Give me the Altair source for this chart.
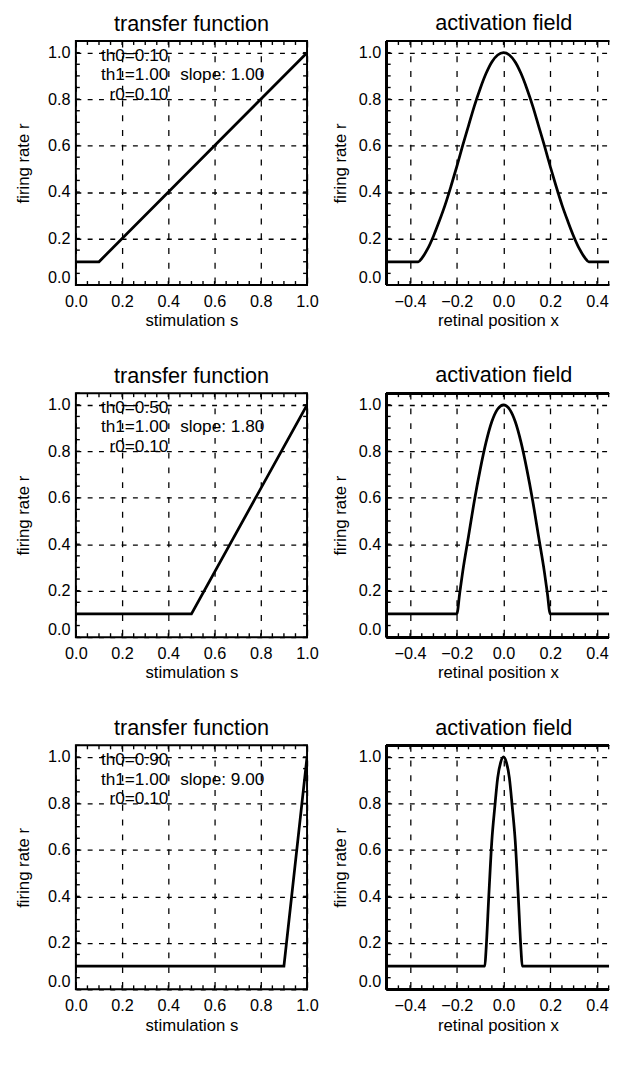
import altair as alt
import pandas as pd

FONT = "Liberation Sans"

# ---------------- data ----------------
# transfer functions (stimulation s -> firing rate r)
tf1_s = [0.0, 0.10, 1.0]
tf1_r = [0.10, 0.10, 1.00]
tf2_s = [0.0, 0.50, 1.0]
tf2_r = [0.10, 0.10, 1.00]
tf3_s = [0.0, 0.90, 1.0]
tf3_r = [0.10, 0.10, 1.00]

# activation fields (retinal position x -> firing rate r)
af1_x = [-0.5, -0.45, -0.4, -0.365, -0.35, -0.325, -0.3, -0.275, -0.25, -0.225,
         -0.2, -0.175, -0.15, -0.125, -0.1, -0.075, -0.05, -0.025, 0.0,
         0.025, 0.05, 0.075, 0.1, 0.125, 0.15, 0.175, 0.2, 0.225, 0.25,
         0.275, 0.3, 0.325, 0.35, 0.365, 0.4, 0.45, 0.5]
af1_r = [0.10, 0.10, 0.10, 0.10, 0.115, 0.155, 0.21, 0.275, 0.345, 0.425,
         0.51, 0.60, 0.685, 0.77, 0.845, 0.91, 0.96, 0.99, 1.00,
         0.99, 0.96, 0.91, 0.845, 0.77, 0.685, 0.60, 0.51, 0.425, 0.345,
         0.275, 0.21, 0.155, 0.115, 0.10, 0.10, 0.10, 0.10]

af2_x = [-0.5, -0.4, -0.3, -0.2, -0.1875, -0.175, -0.15, -0.125, -0.1, -0.075,
         -0.05, -0.025, 0.0, 0.025, 0.05, 0.075, 0.1, 0.125, 0.15, 0.175,
         0.1875, 0.2, 0.3, 0.4, 0.5]
af2_r = [0.10, 0.10, 0.10, 0.10, 0.19, 0.28, 0.433, 0.586, 0.721, 0.838,
         0.928, 0.982, 1.00, 0.982, 0.928, 0.838, 0.721, 0.586, 0.433, 0.28,
         0.19, 0.10, 0.10, 0.10, 0.10]

af3_x = [-0.5, -0.4, -0.3, -0.2, -0.1, -0.08, -0.075, -0.0625, -0.05, -0.0375,
         -0.025, -0.0125, 0.0, 0.0125, 0.025, 0.0375, 0.05, 0.0625, 0.075,
         0.08, 0.1, 0.2, 0.3, 0.4, 0.5]
af3_r = [0.10, 0.10, 0.10, 0.10, 0.10, 0.10, 0.166, 0.412, 0.64, 0.784,
         0.91, 0.976, 1.00, 0.976, 0.91, 0.784, 0.64, 0.412, 0.166,
         0.10, 0.10, 0.10, 0.10, 0.10, 0.10]

# parameter annotations
th0_vals = ["0.10", "0.50", "0.90"]
th1_vals = ["1.00", "1.00", "1.00"]
r0_vals = ["0.10", "0.10", "0.10"]
slope_vals = ["1.00", "1.80", "9.00"]

# axes: labelled values and minor tick positions
tf_major = [0.0, 0.2, 0.4, 0.6, 0.8, 1.0]
af_major = [-0.4, -0.2, 0.0, 0.2, 0.4]
r_major = [0.0, 0.2, 0.4, 0.6, 0.8, 1.0]
tf_minor = [0.0, 0.05, 0.1, 0.15, 0.2, 0.25, 0.3, 0.35, 0.4, 0.45, 0.5,
            0.55, 0.6, 0.65, 0.7, 0.75, 0.8, 0.85, 0.9, 0.95, 1.0]
af_minor = [-0.5, -0.45, -0.4, -0.35, -0.3, -0.25, -0.2, -0.15, -0.1, -0.05, 0.0,
            0.05, 0.1, 0.15, 0.2, 0.25, 0.3, 0.35, 0.4, 0.45]
r_minor = [0.0, 0.05, 0.1, 0.15, 0.2, 0.25, 0.3, 0.35, 0.4, 0.45, 0.5,
           0.55, 0.6, 0.65, 0.7, 0.75, 0.8, 0.85, 0.9, 0.95, 1.0, 1.05]

# ---------------- layout / style ----------------
W_TF, W_AF, H = 235, 226, 248
TF_DOMAIN = [0, 1]
AF_DOMAIN = [-0.5, 0.4516]   # the right edge of the field panels is cut by the page edge
TICK = 4
ANNOT_RIGHT_X = 0.40
ANNOT_SLOPE_X = 0.451
ANNOT_Y = [0.985, 0.902, 0.819]


def axis_x(values, title):
    return alt.Axis(values=values, format=".1f", title=title, grid=True,
                    gridDash=[6, 9], gridColor="black", gridWidth=1.3, gridOpacity=1,
                    ticks=False, domain=False, labelFlush=False, labelOverlap=False,
                    labelPadding=9, labelFontSize=16.5, titleFontSize=17,
                    labelFont=FONT, titleFont=FONT, labelColor="black",
                    titleColor="black", titleFontWeight="normal", titlePadding=3)


def axis_y(title_pad):
    return alt.Axis(values=r_major, format=".1f", title="firing rate r", grid=True,
                    gridDash=[5, 6.5], gridColor="black", gridWidth=1.3, gridOpacity=1,
                    ticks=False, domain=False, labelFlush=True, labelOverlap=False,
                    labelPadding=6, labelFontSize=16.5, titleFontSize=17,
                    labelFont=FONT, titleFont=FONT, labelColor="black",
                    titleColor="black", titleFontWeight="normal", titlePadding=title_pad)


def panel(xs, rs, domain, major, minor, xtitle, title, width, interp,
          annot=None, open_right=False):
    xenc = alt.X("x:Q", scale=alt.Scale(domain=domain, nice=False, zero=False),
                 axis=axis_x(major, xtitle))
    yenc = alt.Y("y:Q", scale=alt.Scale(domain=[0, 1.05], nice=False, zero=False),
                 axis=axis_y(9 if open_right else 15))
    xt = pd.DataFrame({"x": minor})
    yt = pd.DataFrame({"y": r_minor})
    tick_style = dict(color="black", strokeWidth=1.4)
    layers = [
        alt.Chart(xt).mark_rule(**tick_style).encode(x=xenc, y=alt.value(H), y2=alt.value(H - TICK)),
        alt.Chart(xt).mark_rule(**tick_style).encode(x=xenc, y=alt.value(0), y2=alt.value(TICK)),
        alt.Chart(yt).mark_rule(**tick_style).encode(y=yenc, x=alt.value(0), x2=alt.value(TICK)),
    ]
    if not open_right:
        layers.append(alt.Chart(yt).mark_rule(**tick_style).encode(
            y=yenc, x=alt.value(width - TICK), x2=alt.value(width)))
    else:
        frame = dict(color="black", strokeWidth=2)
        layers += [
            alt.Chart(xt).mark_rule(**frame).encode(x=alt.value(0), y=alt.value(0), y2=alt.value(H)),
            alt.Chart(xt).mark_rule(**frame).encode(x=alt.value(0), x2=alt.value(width), y=alt.value(0)),
            alt.Chart(xt).mark_rule(**frame).encode(x=alt.value(0), x2=alt.value(width), y=alt.value(H)),
        ]
    df = pd.DataFrame({"x": xs, "y": rs})
    layers.append(
        alt.Chart(df).mark_line(color="black", strokeWidth=2.8, interpolate=interp,
                                clip=True).encode(x=xenc, y=yenc)
    )
    if annot is not None:
        th0, th1, r0, slope = annot
        right = pd.DataFrame({
            "x": [ANNOT_RIGHT_X] * 3,
            "y": ANNOT_Y,
            "label": ["th0=" + th0, "th1=" + th1, "r0=" + r0],
        })
        left = pd.DataFrame({"x": [ANNOT_SLOPE_X], "y": [ANNOT_Y[1]],
                             "label": ["slope: " + slope]})
        tstyle = dict(font=FONT, fontSize=17.5, color="black", baseline="middle")
        layers.append(alt.Chart(right).mark_text(align="right", **tstyle).encode(
            x=xenc, y=yenc, text="label:N"))
        layers.append(alt.Chart(left).mark_text(align="left", **tstyle).encode(
            x=xenc, y=yenc, text="label:N"))
    props = dict(
        width=width, height=H,
        title=alt.TitleParams(text=title, fontSize=22, font=FONT, fontWeight="normal",
                              color="black", offset=5, frame="group", anchor="middle",
                              dx=6 if open_right else 0),
    )
    if open_right:
        props["view"] = alt.ViewBackground(stroke="transparent")
    return alt.layer(*layers).properties(**props)


tf_data = [(tf1_s, tf1_r), (tf2_s, tf2_r), (tf3_s, tf3_r)]
af_data = [(af1_x, af1_r), (af2_x, af2_r), (af3_x, af3_r)]

rows = []
for i in range(3):
    left = panel(tf_data[i][0], tf_data[i][1], TF_DOMAIN, tf_major, tf_minor,
                 "stimulation s", "transfer function", W_TF, "linear",
                 annot=(th0_vals[i], th1_vals[i], r0_vals[i], slope_vals[i]))
    right = panel(af_data[i][0], af_data[i][1], AF_DOMAIN, af_major, af_minor,
                  "retinal position x", "activation field", W_AF, "monotone",
                  open_right=True)
    rows.append(alt.hconcat(left, right, spacing=81, bounds="flush"))

chart = alt.vconcat(*rows, spacing=34).configure_view(
    stroke="black", strokeWidth=2
).properties(padding={"left": 6, "top": -5, "right": 0, "bottom": 0})

chart.save("out.html", embed_options={"renderer": "svg", "actions": False})
